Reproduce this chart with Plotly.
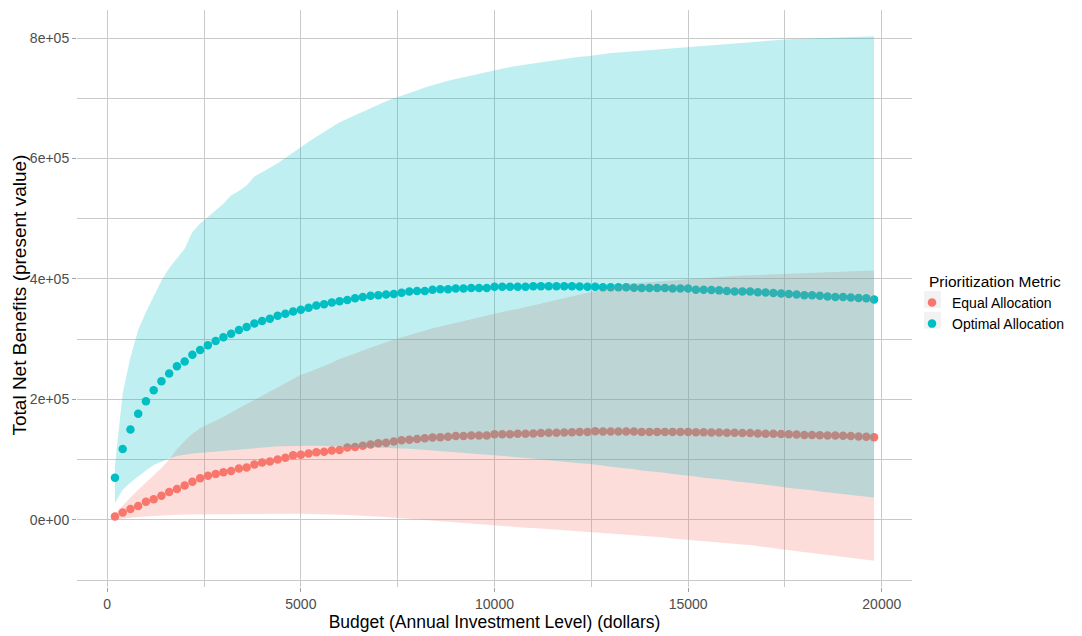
import plotly.graph_objects as go

# Annual investment levels (dollars)
budget = list(range(200, 20000, 200))

# Mean total net benefits at each budget level (units of 1e5)
optimal_mean = [
    0.70, 1.175, 1.50, 1.76, 1.97, 2.15, 2.30, 2.43, 2.55, 2.63,
    2.74, 2.82, 2.90, 2.97, 3.03, 3.09, 3.15, 3.20, 3.26, 3.30,
    3.34, 3.39, 3.42, 3.46, 3.49, 3.52, 3.56, 3.58, 3.61, 3.63,
    3.65, 3.68, 3.70, 3.72, 3.73, 3.74, 3.75, 3.77, 3.79, 3.80,
    3.80, 3.82, 3.83, 3.83, 3.84, 3.84, 3.85, 3.85, 3.85, 3.87,
    3.87, 3.87, 3.87, 3.87, 3.88, 3.88, 3.88, 3.88, 3.88, 3.88,
    3.875, 3.87, 3.87, 3.86, 3.86, 3.86, 3.86, 3.855, 3.85, 3.85,
    3.85, 3.85, 3.84, 3.84, 3.84, 3.82, 3.82, 3.815, 3.81, 3.80,
    3.79, 3.79, 3.79, 3.78, 3.775, 3.765, 3.76, 3.75, 3.74, 3.73,
    3.73, 3.72, 3.71, 3.70, 3.70, 3.69, 3.685, 3.68, 3.66,
]
equal_mean = [
    0.054, 0.12, 0.18, 0.23, 0.30, 0.34, 0.40, 0.46, 0.51, 0.57,
    0.63, 0.69, 0.73, 0.76, 0.79, 0.81, 0.85, 0.87, 0.92, 0.95,
    0.97, 1.00, 1.03, 1.07, 1.08, 1.10, 1.12, 1.13, 1.15, 1.16,
    1.20, 1.21, 1.23, 1.25, 1.27, 1.28, 1.30, 1.32, 1.33, 1.34,
    1.355, 1.365, 1.37, 1.38, 1.39, 1.39, 1.40, 1.40, 1.40, 1.42,
    1.42, 1.42, 1.43, 1.43, 1.435, 1.44, 1.445, 1.445, 1.45, 1.455,
    1.46, 1.46, 1.47, 1.465, 1.465, 1.465, 1.465, 1.465, 1.46, 1.46,
    1.46, 1.46, 1.46, 1.46, 1.46, 1.455, 1.455, 1.45, 1.45, 1.445,
    1.445, 1.44, 1.44, 1.435, 1.43, 1.43, 1.425, 1.42, 1.415, 1.41,
    1.41, 1.405, 1.40, 1.40, 1.395, 1.39, 1.385, 1.38, 1.37,
]

# Uncertainty bands (upper / lower) for each allocation rule (units of 1e5)
optimal_upper = [
    0.90, 2.10, 2.70, 3.15, 3.45, 3.72, 3.97, 4.18, 4.35, 4.50,
    4.78, 4.92, 5.03, 5.14, 5.25, 5.39, 5.46, 5.55, 5.70, 5.77,
    5.84, 5.92, 6.01, 6.10, 6.20, 6.28, 6.36, 6.44, 6.52, 6.60,
    6.66, 6.72, 6.78, 6.84, 6.90, 6.95, 7.00, 7.04, 7.09, 7.13,
    7.18, 7.22, 7.25, 7.29, 7.32, 7.35, 7.38, 7.41, 7.44, 7.47,
    7.50, 7.52, 7.54, 7.56, 7.58, 7.60, 7.62, 7.64, 7.66, 7.68,
    7.69, 7.70, 7.72, 7.73, 7.75, 7.76, 7.77, 7.79, 7.80, 7.81,
    7.82, 7.83, 7.84, 7.85, 7.86, 7.87, 7.88, 7.89, 7.90, 7.91,
    7.92, 7.925, 7.93, 7.94, 7.95, 7.96, 7.97, 7.98, 7.985, 7.99,
    7.995, 8.00, 8.005, 8.01, 8.01, 8.02, 8.02, 8.03, 8.03,
]
optimal_lower = [
    0.28, 0.50, 0.62, 0.72, 0.82, 0.91, 0.97, 1.02, 1.06, 1.08,
    1.10, 1.11, 1.12, 1.14, 1.15, 1.16, 1.17, 1.18, 1.19, 1.20,
    1.21, 1.22, 1.225, 1.23, 1.23, 1.23, 1.23, 1.23, 1.225, 1.22,
    1.22, 1.215, 1.21, 1.205, 1.20, 1.195, 1.19, 1.185, 1.18, 1.17,
    1.16, 1.15, 1.14, 1.13, 1.12, 1.11, 1.10, 1.09, 1.085, 1.08,
    1.07, 1.06, 1.04, 1.03, 1.02, 1.00, 0.99, 0.98, 0.97, 0.95,
    0.94, 0.93, 0.92, 0.90, 0.88, 0.87, 0.85, 0.84, 0.82, 0.81,
    0.79, 0.78, 0.76, 0.75, 0.73, 0.72, 0.70, 0.69, 0.67, 0.66,
    0.64, 0.63, 0.61, 0.60, 0.58, 0.56, 0.55, 0.53, 0.52, 0.50,
    0.49, 0.47, 0.46, 0.44, 0.43, 0.41, 0.40, 0.38, 0.37,
]
equal_upper = [
    0.10, 0.24, 0.37, 0.50, 0.62, 0.73, 0.86, 1.00, 1.17, 1.31,
    1.43, 1.52, 1.58, 1.64, 1.71, 1.78, 1.85, 1.93, 2.00, 2.07,
    2.14, 2.21, 2.28, 2.35, 2.41, 2.45, 2.50, 2.55, 2.61, 2.67,
    2.71, 2.76, 2.81, 2.86, 2.91, 2.95, 2.99, 3.03, 3.07, 3.11,
    3.15, 3.18, 3.21, 3.24, 3.27, 3.30, 3.33, 3.37, 3.40, 3.43,
    3.45, 3.48, 3.50, 3.53, 3.56, 3.59, 3.62, 3.65, 3.68, 3.71,
    3.74, 3.78, 3.80, 3.84, 3.87, 3.90, 3.92, 3.93, 3.94, 3.95,
    3.96, 3.97, 3.98, 3.99, 4.00, 4.01, 4.02, 4.025, 4.03, 4.04,
    4.05, 4.055, 4.06, 4.07, 4.075, 4.08, 4.085, 4.09, 4.095, 4.10,
    4.105, 4.11, 4.115, 4.12, 4.125, 4.13, 4.135, 4.14, 4.14,
]
equal_lower = [
    0.0, 0.02, 0.035, 0.045, 0.055, 0.065, 0.075, 0.08, 0.085, 0.09,
    0.095, 0.10, 0.10, 0.10, 0.10, 0.10, 0.10, 0.10, 0.10, 0.10,
    0.10, 0.10, 0.10, 0.10, 0.10, 0.10, 0.095, 0.09, 0.09, 0.085,
    0.08, 0.075, 0.07, 0.06, 0.055, 0.045, 0.035, 0.025, 0.015, 0.005,
    -0.005, -0.015, -0.025, -0.035, -0.045, -0.055, -0.06, -0.07, -0.08, -0.09,
    -0.10, -0.11, -0.12, -0.13, -0.135, -0.14, -0.15, -0.16, -0.17, -0.175,
    -0.185, -0.195, -0.205, -0.215, -0.225, -0.235, -0.245, -0.255, -0.265, -0.275,
    -0.285, -0.295, -0.31, -0.32, -0.335, -0.345, -0.355, -0.37, -0.38, -0.39,
    -0.40, -0.41, -0.42, -0.435, -0.45, -0.47, -0.49, -0.505, -0.52, -0.535,
    -0.55, -0.565, -0.58, -0.595, -0.61, -0.63, -0.645, -0.665, -0.68,
]

SCALE = 1e5
x_ticks = [0, 5000, 10000, 15000, 20000]
x_tick_labels = ["0", "5000", "10000", "15000", "20000"]
y_ticks = [0, 200000, 400000, 600000, 800000]
y_tick_labels = ["0e+00", "2e+05", "4e+05", "6e+05", "8e+05"]

RED = "#F8766D"
CYAN = "#00BFC4"
GRID = "#C9C9C9"
FONT = "Liberation Sans, Arial, sans-serif"

# Plot area in pixels, used to place the legend pieces
W, H = 1082, 636
ML, MR, MT, MB = 77, 170, 10, 42
PW, PH = W - ML - MR, H - MT - MB


def px_x(px):
    return (px - ML) / PW


def px_y(py):
    return (H - MB - py) / PH


def scaled(values):
    return [v * SCALE for v in values]


def band(xs, upper, lower):
    return xs + xs[::-1], scaled(upper) + scaled(lower)[::-1]


fig = go.Figure()

# Points first, so the translucent bands tint them
fig.add_trace(go.Scatter(
    x=budget, y=scaled(equal_mean), mode="markers", name="Equal Allocation",
    marker=dict(color=RED, size=8.5, line=dict(width=0)),
))
fig.add_trace(go.Scatter(
    x=budget, y=scaled(optimal_mean), mode="markers", name="Optimal Allocation",
    marker=dict(color=CYAN, size=8.5, line=dict(width=0)),
))

bx, by = band(budget, equal_upper, equal_lower)
fig.add_trace(go.Scatter(
    x=bx, y=by, fill="toself", mode="lines", line=dict(width=0),
    fillcolor="rgba(248,118,109,0.25)", showlegend=False, hoverinfo="skip",
))
bx, by = band(budget, optimal_upper, optimal_lower)
fig.add_trace(go.Scatter(
    x=bx, y=by, fill="toself", mode="lines", line=dict(width=0),
    fillcolor="rgba(0,191,196,0.25)", showlegend=False, hoverinfo="skip",
))

axis_font = dict(family=FONT, size=14, color="#4D4D4D")
title_font = dict(family=FONT, size=17.5, color="#000000")

fig.update_xaxes(
    range=[-780, 20780], tickvals=x_ticks, ticktext=x_tick_labels,
    showgrid=True, gridcolor=GRID, gridwidth=1, zeroline=False, showline=False,
    ticks="outside", ticklen=4, tickcolor="#9E9E9E", tickfont=axis_font,
    minor=dict(tickvals=[2500, 7500, 12500, 17500], showgrid=True,
               gridcolor=GRID, gridwidth=1, ticks=""),
    title=dict(text="Budget (Annual Investment Level) (dollars)", font=title_font, standoff=2),
)
fig.update_yaxes(
    range=[-111600, 846600], tickvals=y_ticks, ticktext=y_tick_labels,
    showgrid=True, gridcolor=GRID, gridwidth=1, zeroline=False, showline=False,
    ticks="outside", ticklen=4, tickcolor="#9E9E9E", tickfont=axis_font,
    minor=dict(tickvals=[-100000, 100000, 300000, 500000, 700000], showgrid=True,
               gridcolor=GRID, gridwidth=1, ticks=""),
)

# Y axis title
fig.add_annotation(
    text="Total Net Benefits (present value)", xref="paper", yref="paper",
    x=px_x(20), y=px_y(299), xanchor="center", yanchor="middle",
    textangle=-90, showarrow=False, font=dict(family=FONT, size=19, color="#000000"),
)

# Legend title and key backgrounds
fig.add_annotation(
    text="Prioritization Metric", xref="paper", yref="paper",
    x=px_x(927), y=px_y(285), xanchor="left", yanchor="middle", showarrow=False,
    font=dict(family=FONT, size=15.5, color="#000000"),
)
for cy in (303, 324):
    fig.add_shape(
        type="rect", xref="paper", yref="paper", layer="above",
        x0=px_x(924), x1=px_x(941), y0=px_y(cy + 8.5), y1=px_y(cy - 8.5),
        fillcolor="#F2F2F2", line=dict(width=0),
    )

fig.update_layout(
    width=W, height=H,
    margin=dict(l=ML, r=MR, t=MT, b=MB),
    paper_bgcolor="white", plot_bgcolor="white",
    font=dict(family=FONT),
    legend=dict(
        x=1.0, y=px_y(317), xanchor="left", yanchor="middle",
        bgcolor="rgba(0,0,0,0)",
        font=dict(family=FONT, size=14, color="#000000"),
        itemwidth=30, tracegroupgap=0,
    ),
    showlegend=True,
)

fig.write_html("out.html")
